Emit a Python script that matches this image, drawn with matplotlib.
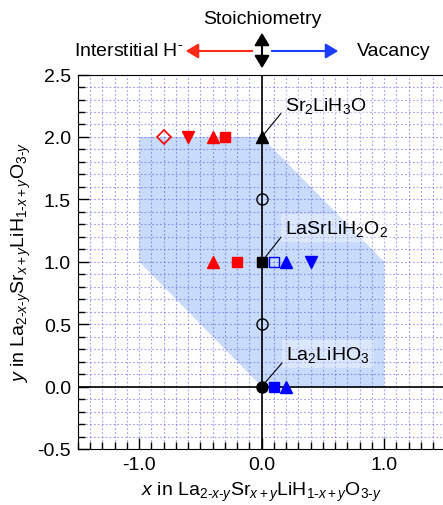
import matplotlib
matplotlib.use("Agg")
import matplotlib.pyplot as plt
from matplotlib.patches import Polygon, FancyArrowPatch

plt.rcParams['font.family'] = ['Liberation Sans', 'DejaVu Sans']
plt.rcParams['mathtext.fontset'] = 'custom'
plt.rcParams['mathtext.rm'] = 'Liberation Sans'
plt.rcParams['mathtext.it'] = 'Liberation Sans:italic'

# Shaded region vertices (x, y)
region_x = [-1.0, -1.0, 0.0, 1.0, 1.0, 0.0]
region_y = [1.0, 2.0, 2.0, 1.0, 0.0, 0.0]

# Red (interstitial H-) points
red_tri_up_x = [-0.4, -0.4]
red_tri_up_y = [2.0, 1.0]
red_sq_x = [-0.3, -0.2]
red_sq_y = [2.0, 1.0]
red_tri_down_x = [-0.6]
red_tri_down_y = [2.0]
red_diam_open_x = [-0.8]
red_diam_open_y = [2.0]

# Black (stoichiometric) points
blk_tri_x = [0.0]; blk_tri_y = [2.0]
blk_sq_x = [0.0]; blk_sq_y = [1.0]
blk_circ_x = [0.0]; blk_circ_y = [0.0]
blk_open_circ_x = [0.0, 0.0]; blk_open_circ_y = [1.5, 0.5]

# Blue (vacancy) points
blue_sq_x = [0.1]; blue_sq_y = [0.0]
blue_open_sq_x = [0.1]; blue_open_sq_y = [1.0]
blue_tri_up_x = [0.2, 0.2]; blue_tri_up_y = [1.0, 0.0]
blue_tri_down_x = [0.4]; blue_tri_down_y = [1.0]

labels = ["Sr$_2$LiH$_3$O", "LaSrLiH$_2$O$_2$", "La$_2$LiHO$_3$"]
label_pts = [(0.0, 2.0), (0.0, 1.0), (0.0, 0.0)]
label_pos = [(0.19, 2.26), (0.19, 1.27), (0.2, 0.26)]

fig = plt.figure(figsize=(4.43, 5.06), dpi=100)
ax = fig.add_axes([0.176, 0.1107, 0.8296, 0.740])

ax.set_xlim(-1.5, 1.5)
ax.set_ylim(-0.5, 2.5)

ax.add_patch(Polygon(list(zip(region_x, region_y)), closed=True,
                     facecolor='#c9dbfa', edgecolor='none', zorder=0))

ax.set_xticks([-1.0, 0.0, 1.0])
ax.set_xticklabels(['-1.0', '0.0', '1.0'])
ax.set_yticks([-0.5, 0.0, 0.5, 1.0, 1.5, 2.0, 2.5])
ax.set_yticklabels(['-0.5', '0.0', '0.5', '1.0', '1.5', '2.0', '2.5'])
ax.set_xticks([i / 10 for i in range(-15, 16)], minor=True)
ax.set_yticks([i / 10 for i in range(-5, 26)], minor=True)
ax.tick_params(which='both', direction='in', labelsize=14, top=False, right=False)
ax.tick_params(which='major', length=8, width=1, pad=5)
ax.tick_params(which='minor', length=5, width=1)
ax.grid(which='both', color='#4a4aee', linestyle=(0, (1.5, 2)), linewidth=0.8, alpha=0.55)
ax.set_axisbelow(True)

ax.axvline(0, color='black', lw=1.2, zorder=2)
ax.axhline(0, color='black', lw=1.2, zorder=2)

ms = 8
ax.plot(red_tri_up_x, red_tri_up_y, '^', color='red', ms=ms, ls='none', zorder=5)
ax.plot(red_sq_x, red_sq_y, 's', color='red', ms=ms - 1, ls='none', zorder=5)
ax.plot(red_tri_down_x, red_tri_down_y, 'v', color='red', ms=ms, ls='none', zorder=5)
ax.plot(red_diam_open_x, red_diam_open_y, 'D', mfc='none', mec='red', mew=1.2, ms=ms - 1, ls='none', zorder=5)

ax.plot(blk_tri_x, blk_tri_y, '^', color='black', ms=ms, ls='none', zorder=5)
ax.plot(blk_sq_x, blk_sq_y, 's', color='black', ms=ms - 1, ls='none', zorder=5)
ax.plot(blk_circ_x, blk_circ_y, 'o', color='black', ms=ms, ls='none', zorder=5)
ax.plot(blk_open_circ_x, blk_open_circ_y, 'o', mfc='none', mec='black', mew=1.0, ms=ms, ls='none', zorder=5)

ax.plot(blue_sq_x, blue_sq_y, 's', color='blue', ms=ms - 1, ls='none', zorder=5)
ax.plot(blue_open_sq_x, blue_open_sq_y, 's', mfc='none', mec='blue', mew=1.0, ms=ms - 1, ls='none', zorder=5)
ax.plot(blue_tri_up_x, blue_tri_up_y, '^', color='blue', ms=ms, ls='none', zorder=5)
ax.plot(blue_tri_down_x, blue_tri_down_y, 'v', color='blue', ms=ms, ls='none', zorder=5)

for lab, pt, pos in zip(labels, label_pts, label_pos):
    ax.annotate(lab, xy=pt, xytext=pos, fontsize=14, ha='left', va='center',
                bbox=dict(boxstyle='square,pad=0.2', fc='white', ec='none', alpha=0.35),
                arrowprops=dict(arrowstyle='-', color='black', lw=0.8,
                                shrinkA=0, shrinkB=0, relpos=(0, 0.3)),
                zorder=6)

ax.set_xlabel('$x$ in La$_{2\u2010x\u2010y}$Sr$_{x+y}$LiH$_{1\u2010x+y}$O$_{3\u2010y}$', fontsize=14, labelpad=5)
ax.set_ylabel('$y$ in La$_{2\u2010x\u2010y}$Sr$_{x+y}$LiH$_{1\u2010x+y}$O$_{3\u2010y}$', fontsize=14, labelpad=3)

# Header annotations (figure coords)
def fx(px):
    return px / 443
def fy(py):
    return 1 - py / 506

fig.text(fx(262), fy(19), 'Stoichiometry', ha='center', va='center', fontsize=14)
fig.text(fx(183), fy(51), 'Interstitial H$^{\u2010}$', ha='right', va='center', fontsize=14)
fig.text(fx(357), fy(51), 'Vacancy', ha='left', va='center', fontsize=14)
fig.patches.append(FancyArrowPatch(
    (fx(262), fy(31)), (fx(262), fy(72)), transform=fig.transFigure,
    arrowstyle='<|-|>,head_length=5,head_width=3', color='black', lw=1.5, mutation_scale=1.5))
fig.patches.append(FancyArrowPatch(
    (fx(255), fy(52)), (fx(183), fy(52)), transform=fig.transFigure,
    arrowstyle='-|>,head_length=5,head_width=3', color='#ff2a1a', lw=1.5, mutation_scale=1.5))
fig.patches.append(FancyArrowPatch(
    (fx(269), fy(52)), (fx(341), fy(52)), transform=fig.transFigure,
    arrowstyle='-|>,head_length=5,head_width=3', color='#1a3cff', lw=1.5, mutation_scale=1.5))

fig.savefig('out.png', dpi=100)
